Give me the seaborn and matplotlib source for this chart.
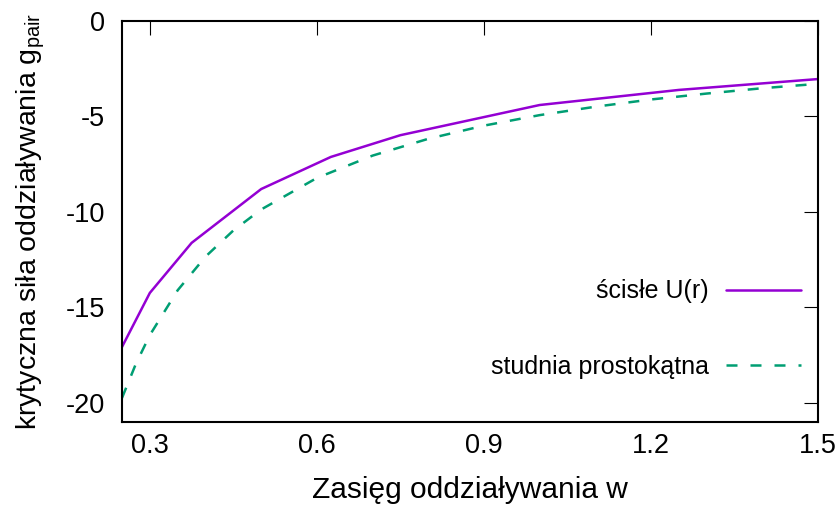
import matplotlib
matplotlib.use("Agg")
import matplotlib.pyplot as plt
import pandas as pd
import seaborn as sns

# exact potential U(r): critical coupling vs. interaction range
w_exact = [0.25, 0.3, 0.375, 0.5, 0.625, 0.75, 1.0, 1.25, 1.5]
g_exact = [-17.07, -14.24, -11.62, -8.80, -7.12, -5.98, -4.40, -3.61, -3.04]

# square-well approximation
w_well = [0.25, 0.275, 0.3, 0.35, 0.4, 0.45, 0.5, 0.6, 0.7, 0.8, 0.9,
          1.0, 1.1, 1.2, 1.3, 1.4, 1.5]
g_well = [-19.74, -17.95, -16.45, -14.10, -12.34, -10.97, -9.87, -8.22,
          -7.05, -6.17, -5.48, -4.93, -4.49, -4.11, -3.80, -3.52, -3.29]

label_exact = "ścisłe U(r)"
label_well = "studnia prostokątna"
x_label = "Zasięg oddziaływania w"
y_label = r"krytyczna siła oddziaływania g$_{\mathrm{pair}}$"

x_ticks = [0.3, 0.6, 0.9, 1.2, 1.5]
y_ticks = [0, -5, -10, -15, -20]

sns.set_theme(style="white")
plt.rcParams["font.family"] = ["Liberation Sans", "DejaVu Sans"]
plt.rcParams["mathtext.fontset"] = "custom"
plt.rcParams["mathtext.rm"] = "Liberation Sans"
plt.rcParams["mathtext.it"] = "Liberation Sans:italic"
plt.rcParams["text.color"] = "black"

df_exact = pd.DataFrame({"w": w_exact, "g": g_exact})
df_well = pd.DataFrame({"w": w_well, "g": g_well})

fig = plt.figure(figsize=(8.4, 5.16), dpi=100)
ax = fig.add_axes([122 / 840, 1 - 422 / 516, (818 - 122) / 840, (422 - 21) / 516])

sns.lineplot(data=df_exact, x="w", y="g", ax=ax, color="#9400D3",
             linewidth=1.8, label=label_exact, sort=False)
sns.lineplot(data=df_well, x="w", y="g", ax=ax, color="#009E73",
             linewidth=1.8, label=label_well, sort=False)
ax.lines[1].set_dashes((4.4, 5.2))

ax.set_xlim(0.25, 1.5)
ax.set_ylim(-21, 0)
ax.set_xticks(x_ticks)
ax.set_xticklabels([f"{t:.1f}" for t in x_ticks])
ax.set_yticks(y_ticks)
ax.set_yticklabels([str(t) for t in y_ticks])

ax.tick_params(direction="in", top=True, right=True, length=10, width=0.8,
               color="black", labelsize=19.5, labelcolor="black")
ax.tick_params(axis="x", pad=8)
ax.tick_params(axis="y", pad=12)
for s in ax.spines.values():
    s.set_color("black")
    s.set_linewidth(1.5)

ax.set_xlabel(x_label, fontsize=21.5, color="black", labelpad=12)
ax.set_ylabel(y_label, fontsize=20.5, color="black", labelpad=14)

leg = ax.legend(loc="lower right", bbox_to_anchor=(0.99, 0.083), frameon=False,
                markerfirst=False, fontsize=18, handlelength=3.0,
                handletextpad=0.7, labelspacing=2.05, borderaxespad=0)
for t in leg.get_texts():
    t.set_ha("right")
    t.set_color("black")

fig.savefig("out.png", dpi=100)
